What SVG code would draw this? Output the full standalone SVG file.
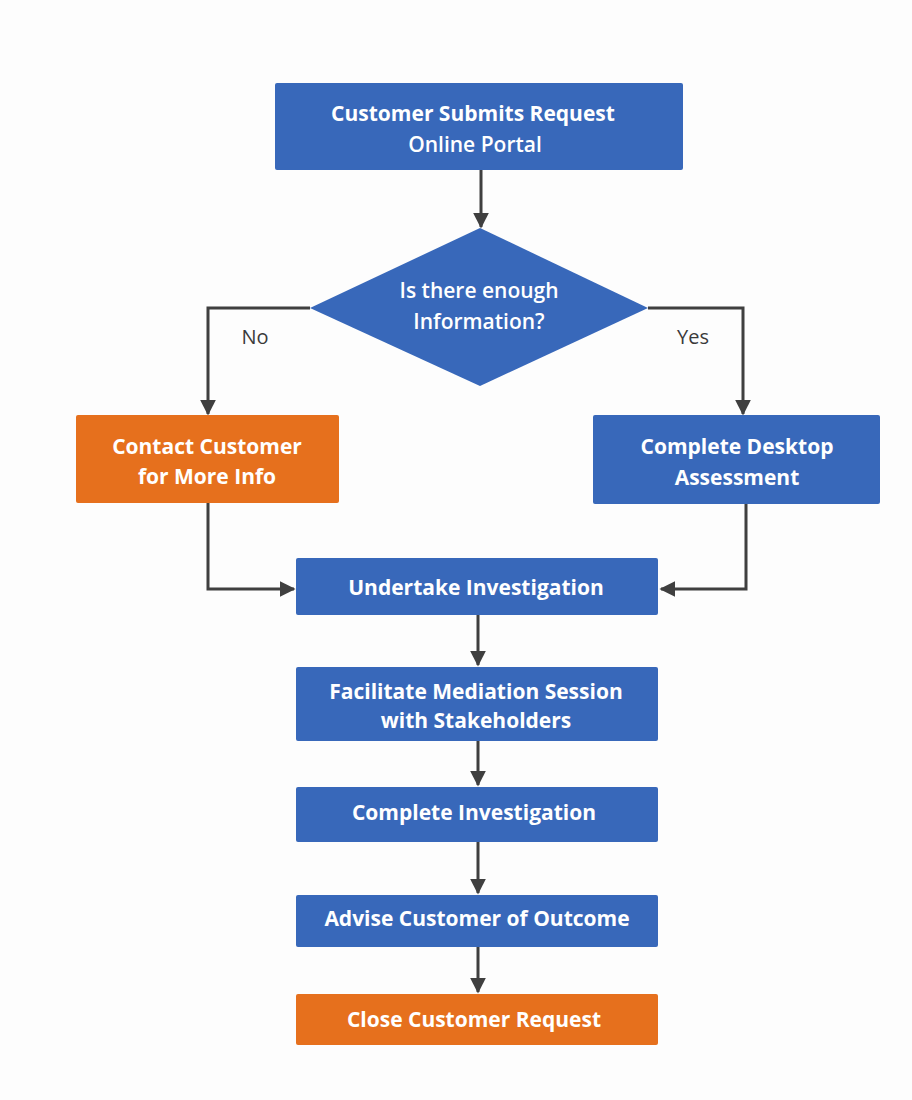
<svg xmlns="http://www.w3.org/2000/svg" width="912" height="1100" viewBox="0 0 912 1100">
<defs>
<marker id="ah" viewBox="0 0 10 10" refX="9" refY="5" markerWidth="16" markerHeight="16" markerUnits="userSpaceOnUse" orient="auto">
<path d="M0,0 L10,5 L0,10 z" fill="#3f3f3f"/>
</marker>
<style>
.blue{fill:#3868BA;}
.orange{fill:#E6701D;}
.t{font-family:"Open Sans","Liberation Sans",sans-serif;font-weight:700;font-size:21px;fill:#ffffff;text-anchor:middle;}
.s{font-weight:600;}
.lbl{font-family:"Open Sans","Liberation Sans",sans-serif;font-size:20px;fill:#3a3a3a;text-anchor:middle;}
.c{fill:none;stroke:#3f3f3f;stroke-width:3;marker-end:url(#ah);}
</style>
</defs>
<rect width="912" height="1100" fill="#fdfdfd"/>
<g id="connectors">
<path class="c" d="M481,170 V227"/>
<path class="c" d="M310,308 H208 V414"/>
<path class="c" d="M648,308 H743 V414"/>
<path class="c" d="M208,503 V589 H294"/>
<path class="c" d="M746,504 V589 H661"/>
<path class="c" d="M478,615 V665"/>
<path class="c" d="M478,741 V785"/>
<path class="c" d="M478,842 V893"/>
<path class="c" d="M478,947 V992"/>
<text class="lbl" x="255" y="344">No</text>
<text class="lbl" x="693" y="344">Yes</text>
</g>
<g id="n1">
<rect class="blue" x="275" y="83" width="408" height="87" rx="2"/>
<text class="t" x="473" y="121">Customer Submits Request</text>
<text class="t s" x="475" y="152">Online Portal</text>
</g>
<g id="n2">
<polygon class="blue" points="480,228 648,308 480,386 310,308"/>
<text class="t s" x="479" y="298">Is there enough</text>
<text class="t s" x="479" y="329">Information?</text>
</g>
<g id="n3">
<rect class="orange" x="76" y="415" width="263" height="88" rx="2"/>
<text class="t" x="207" y="454">Contact Customer</text>
<text class="t" x="207" y="484">for More Info</text>
</g>
<g id="n4">
<rect class="blue" x="593" y="415" width="287" height="89" rx="2"/>
<text class="t" x="737" y="454">Complete Desktop</text>
<text class="t" x="737" y="485">Assessment</text>
</g>
<g id="n5">
<rect class="blue" x="296" y="558" width="362" height="57" rx="2"/>
<text class="t" x="476" y="595">Undertake Investigation</text>
</g>
<g id="n6">
<rect class="blue" x="296" y="667" width="362" height="74" rx="2"/>
<text class="t" x="476" y="699">Facilitate Mediation Session</text>
<text class="t" x="476" y="728">with Stakeholders</text>
</g>
<g id="n7">
<rect class="blue" x="296" y="787" width="362" height="55" rx="2"/>
<text class="t" x="474" y="820">Complete Investigation</text>
</g>
<g id="n8">
<rect class="blue" x="296" y="895" width="362" height="52" rx="2"/>
<text class="t" x="477" y="926">Advise Customer of Outcome</text>
</g>
<g id="n9">
<rect class="orange" x="296" y="994" width="362" height="51" rx="2"/>
<text class="t" x="474" y="1027">Close Customer Request</text>
</g>
</svg>
